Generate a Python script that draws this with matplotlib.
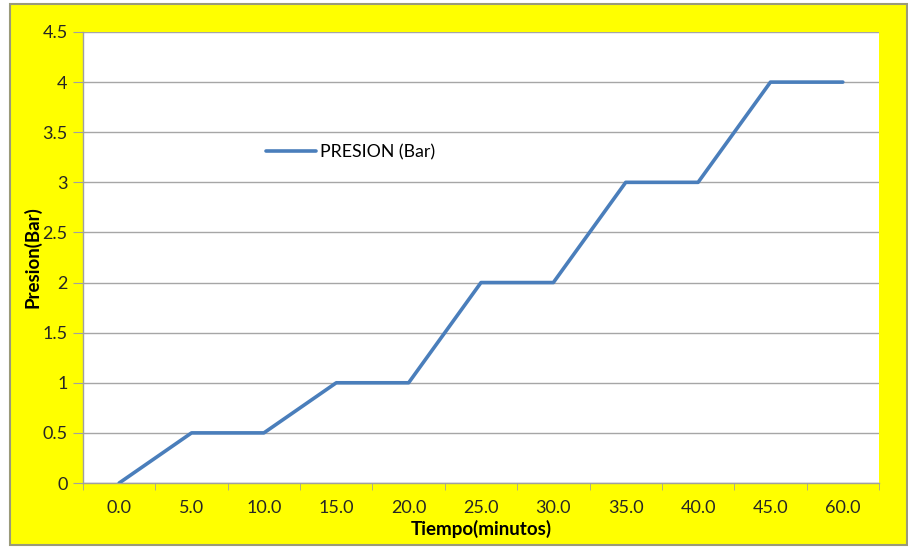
import matplotlib.pyplot as plt
from matplotlib.patches import Rectangle

plt.rcParams['font.family'] = ['Lato', 'DejaVu Sans']

tiempo = ['0.0', '5.0', '10.0', '15.0', '20.0', '25.0', '30.0', '35.0', '40.0', '45.0', '60.0']
presion = [0, 0.5, 0.5, 1, 1, 2, 2, 3, 3, 4, 4]
yticks = [0, 0.5, 1, 1.5, 2, 2.5, 3, 3.5, 4, 4.5]
ylabels = ['0', '0.5', '1', '1.5', '2', '2.5', '3', '3.5', '4', '4.5']

fig = plt.figure(figsize=(9.08, 5.48), dpi=100, facecolor='white')
# yellow chart area with gray border
fig.patches.append(Rectangle((10 / 908, 3 / 548), 897 / 908, 541 / 548,
                             transform=fig.transFigure, facecolor='#ffff00',
                             edgecolor='#9a9a7a', linewidth=1.5, zorder=-5))

ax = fig.add_axes([83 / 908, 65 / 548, 796 / 908, 451 / 548])
ax.set_facecolor('white')

x = list(range(len(tiempo)))
ax.plot(x, presion, color='#4a7ebb', linewidth=2.6, label='PRESION (Bar)',
        solid_capstyle='round', zorder=3)

ax.set_xlim(-0.5, len(tiempo) - 0.5)
ax.set_ylim(0, 4.5)
ax.set_yticks(yticks)
ax.set_yticklabels(ylabels)
ax.set_xticks(x)
ax.set_xticklabels(tiempo)
ax.set_xticks([i - 0.5 for i in range(len(tiempo) + 1)], minor=True)

ax.tick_params(axis='x', which='major', length=0, pad=12, labelsize=13, labelcolor='#262626')
ax.tick_params(axis='x', which='minor', length=5, color='#a0a0a0', direction='out')
ax.tick_params(axis='y', length=7, color='#a0a0a0', direction='out', pad=4,
               labelsize=13, labelcolor='#262626')

ax.grid(axis='y', color='#a6a6a6', linewidth=1)
ax.set_axisbelow(True)
for s in ['top', 'right']:
    ax.spines[s].set_visible(False)
for s in ['left', 'bottom']:
    ax.spines[s].set_color('#a0a0a0')
    ax.spines[s].set_linewidth(1)

ax.set_xlabel('Tiempo(minutos)', fontsize=13.5, fontweight='bold', labelpad=3)
ax.set_ylabel('Presion(Bar)', fontsize=13.5, fontweight='bold', labelpad=1)

ax.legend(loc='center left', bbox_to_anchor=(0.21, 0.734), frameon=False,
          fontsize=12.8, handlelength=2.8, handletextpad=0.25)

plt.savefig('out.png', dpi=100, facecolor=fig.get_facecolor())
